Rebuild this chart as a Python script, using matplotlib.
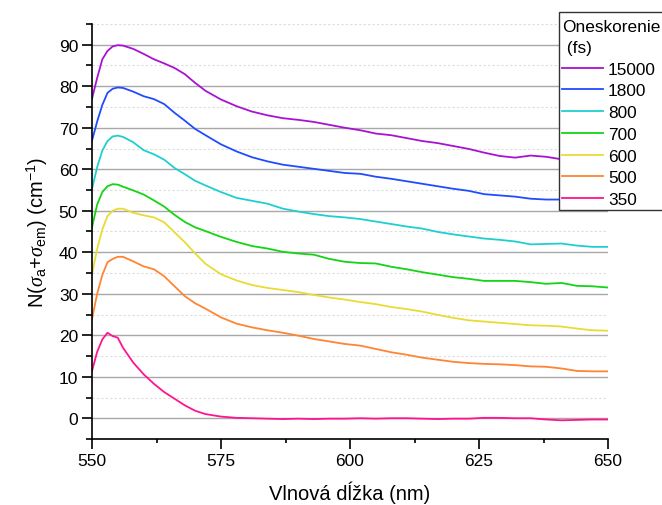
import matplotlib
matplotlib.use("Agg")
import matplotlib.pyplot as plt
from matplotlib.patches import Rectangle
from matplotlib.ticker import MultipleLocator

plt.rcParams['font.family'] = ['Liberation Sans', 'DejaVu Sans']
plt.rcParams['mathtext.fontset'] = 'custom'
plt.rcParams['mathtext.rm'] = 'Liberation Sans'
plt.rcParams['mathtext.it'] = 'Liberation Serif:italic'

wavelength = [550, 551, 552, 553, 554, 555, 556, 558, 560, 562, 564, 566, 568, 570, 572,
              575, 578, 581, 584, 587, 590, 593, 596, 599, 602, 605, 608, 611, 614, 617,
              620, 623, 626, 629, 632, 635, 638, 641, 644, 647, 650]

delays = ["15000", "1800", "800", "700", "600", "500", "350"]
colors = ["#a812d2", "#1f4cff", "#1fcfd0", "#14d414", "#e8dc34", "#ff8433", "#ff1490"]

s15000 = [77.0, 82.0, 86.5, 88.5, 89.6, 89.9, 89.8, 89.0, 87.8, 86.5, 85.5, 84.4, 82.9, 80.8, 78.9,
          76.8, 75.2, 73.9, 73.0, 72.3, 71.9, 71.4, 70.7, 70.0, 69.4, 68.6, 68.2, 67.5, 66.8, 66.3,
          65.6, 64.9, 64.0, 63.2, 62.8, 63.3, 63.0, 62.4, 62.0, 61.7, 61.5]
s1800 = [66.9, 71.5, 75.5, 78.4, 79.4, 79.7, 79.6, 78.7, 77.6, 76.9, 75.7, 73.6, 71.7, 69.7, 68.2,
         66.0, 64.3, 62.9, 61.9, 61.1, 60.6, 60.1, 59.6, 59.1, 58.9, 58.2, 57.7, 57.1, 56.5, 55.9,
         55.3, 54.8, 54.0, 53.7, 53.4, 52.9, 52.7, 52.7, 52.7, 52.6, 52.6]
s800 = [55.3, 60.5, 64.5, 66.8, 67.9, 68.1, 67.8, 66.5, 64.6, 63.6, 62.3, 60.3, 58.8, 57.2, 56.1,
        54.5, 53.1, 52.4, 51.7, 50.5, 49.8, 49.2, 48.7, 48.4, 48.0, 47.4, 46.8, 46.2, 45.7, 44.9,
        44.3, 43.8, 43.3, 43.0, 42.6, 41.9, 42.0, 42.1, 41.6, 41.3, 41.3]
s700 = [46.0, 51.5, 54.5, 55.9, 56.4, 56.3, 55.8, 54.9, 53.9, 52.5, 51.0, 49.0, 47.3, 46.0, 45.1,
        43.7, 42.5, 41.5, 40.9, 40.1, 39.7, 39.4, 38.4, 37.7, 37.4, 37.3, 36.5, 35.9, 35.2, 34.6,
        34.0, 33.6, 33.1, 33.1, 33.1, 32.8, 32.4, 32.6, 31.9, 31.8, 31.5]
s600 = [34.7, 40.8, 45.5, 48.7, 50.0, 50.5, 50.5, 49.5, 48.9, 48.4, 47.2, 44.8, 42.4, 39.7, 37.2,
        34.7, 33.2, 32.1, 31.4, 30.9, 30.4, 29.7, 29.1, 28.6, 28.0, 27.5, 26.8, 26.3, 25.7, 24.9,
        24.2, 23.6, 23.3, 23.0, 22.7, 22.4, 22.3, 22.1, 21.6, 21.2, 21.1]
s500 = [23.9, 30.0, 34.5, 37.6, 38.4, 38.9, 38.9, 37.8, 36.6, 35.9, 34.2, 31.8, 29.4, 27.7, 26.4,
        24.3, 22.8, 21.9, 21.2, 20.6, 19.9, 19.1, 18.5, 17.9, 17.5, 16.7, 15.9, 15.3, 14.6, 14.1,
        13.6, 13.3, 13.1, 13.0, 12.8, 12.5, 12.4, 12.0, 11.4, 11.3, 11.3]
s350 = [11.4, 16.0, 19.0, 20.6, 19.8, 19.4, 17.0, 13.4, 10.6, 8.3, 6.3, 4.7, 3.1, 1.8, 1.0,
        0.4, 0.1, 0.0, -0.1, -0.2, -0.1, -0.2, -0.1, -0.1, 0.0, -0.1, 0.0, 0.0, -0.1, -0.2,
        -0.1, -0.1, 0.1, 0.1, 0.0, 0.0, -0.3, -0.5, -0.4, -0.3, -0.3]

series = [s15000, s1800, s800, s700, s600, s500, s350]

W, H = 662, 506
fig = plt.figure(figsize=(W / 100, H / 100), dpi=100)
ax = fig.add_axes([92 / W, 1 - 440 / H, 516 / W, 415 / H])

for label, color, values in zip(delays, colors, series):
    ax.plot(wavelength, values, color=color, lw=1.3, label=label)

ax.set_xlim(550, 650)
ax.set_ylim(-5, 95)
ax.xaxis.set_major_locator(MultipleLocator(25))
ax.xaxis.set_minor_locator(MultipleLocator(12.5))
ax.yaxis.set_major_locator(MultipleLocator(10))
ax.yaxis.set_minor_locator(MultipleLocator(5))
ax.set_yticks(range(0, 100, 10))

ax.grid(axis='y', which='major', color='#a8a8a8', lw=1.0)
ax.grid(axis='y', which='minor', color='#dcdcdc', lw=0.8, ls=(0, (2, 2)))
ax.set_axisbelow(True)

for side in ('top', 'right'):
    ax.spines[side].set_visible(False)
for side in ('left', 'bottom'):
    ax.spines[side].set_linewidth(1.2)
    ax.spines[side].set_color('black')

ax.tick_params(which='major', direction='out', length=7, width=1.2, labelsize=12.5, pad=3)
ax.tick_params(which='minor', direction='out', length=4, width=1.2)
ax.tick_params(axis='x', which='minor', length=3)

ax.set_xlabel('Vlnová dĺžka (nm)', fontsize=14.5, labelpad=9)
ax.set_ylabel(r'N($\sigma_{\mathrm{a}}$+$\sigma_{\mathrm{em}}$) (cm$^{\mathrm{-1}}$)',
              fontsize=14.5, labelpad=6)

# legend box: white panel with a dark frame running off the right edge
panel = Rectangle((559 / W, 1 - 211 / H), 110 / W, (211 - 12.7) / H,
                  transform=fig.transFigure, facecolor='white', edgecolor='#333333',
                  lw=1.0, clip_on=False, zorder=4)
ax.add_patch(panel)

leg = ax.legend(title='Oneskorenie\n (fs)', loc='upper left',
                bbox_to_anchor=(559 / W, 1 - 17 / H), bbox_transform=fig.transFigure,
                fontsize=12.4, title_fontsize=12.4, frameon=False,
                handlelength=2.35, handletextpad=0.3, labelspacing=0.39,
                borderpad=0.2, borderaxespad=0, alignment='left')
leg.get_title().set_linespacing(1.45)
leg.set_zorder(5)

fig.savefig('out.png', dpi=100)
